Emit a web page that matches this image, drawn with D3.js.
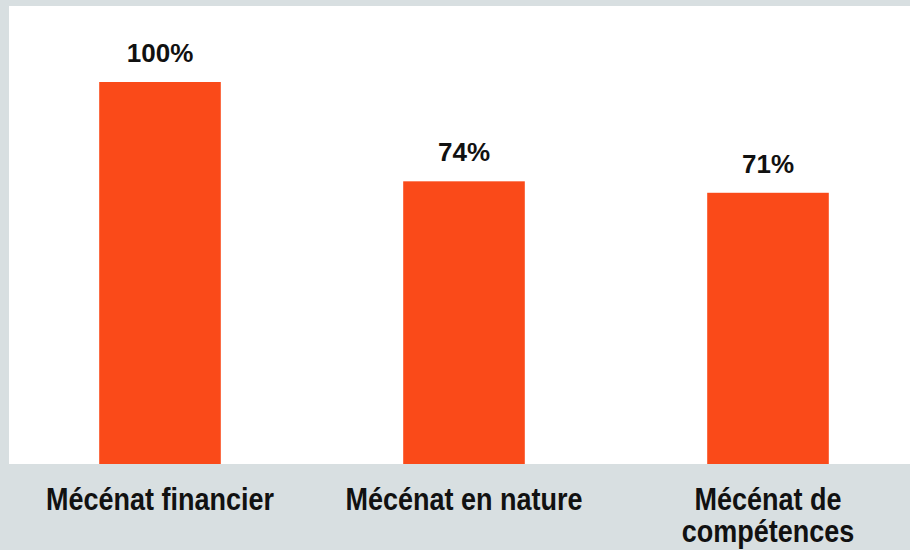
<!DOCTYPE html>
<html>
<head>
<meta charset="utf-8">
<script src="https://cdn.jsdelivr.net/npm/d3@7"></script>
<style>
  html, body { margin: 0; padding: 0; background: #d8dfe1; }
  svg { display: block; }
</style>
</head>
<body>
<svg id="chart" width="910" height="550"></svg>
<script>
const categories = ["Mécénat financier", "Mécénat en nature", "Mécénat de compétences"];
const categoryLines = [["Mécénat financier"], ["Mécénat en nature"], ["Mécénat de", "compétences"]];
const values = [100, 74, 71];
const valueLabels = ["100%", "74%", "71%"];

const W = 910, H = 550;
const svg = d3.select("#chart");

svg.append("rect").attr("x", 0).attr("y", 0).attr("width", W).attr("height", H).attr("fill", "#d8dfe1");
svg.append("rect").attr("x", 9).attr("y", 6).attr("width", W - 9).attr("height", 464 - 6).attr("fill", "#ffffff");

const x = d3.scaleBand().domain(categories).range([8, 920]).paddingInner(0.6).paddingOuter(0.3);
const y = d3.scaleLinear().domain([0, 100]).range([464, 82]);

svg.selectAll("rect.bar").data(values).join("rect")
  .attr("class", "bar")
  .attr("x", (d, i) => x(categories[i]))
  .attr("width", x.bandwidth())
  .attr("y", d => y(d))
  .attr("height", d => y(0) - y(d))
  .attr("fill", "#fa4a19");

svg.selectAll("text.val").data(values).join("text")
  .attr("class", "val")
  .attr("x", (d, i) => x(categories[i]) + x.bandwidth() / 2)
  .attr("y", d => y(d) - 20)
  .attr("text-anchor", "middle")
  .attr("font-family", "'Liberation Sans', Arial, sans-serif")
  .attr("font-weight", "bold")
  .attr("font-size", 26)
  .attr("fill", "#111")
  .text((d, i) => valueLabels[i]);

const cat = svg.selectAll("g.cat").data(categories).join("g")
  .attr("class", "cat")
  .attr("transform", d => `translate(${x(d) + x.bandwidth() / 2},510) scale(1,1.13)`);

cat.each(function(d, i) {
  const g = d3.select(this);
  categoryLines[i].forEach((line, j) => {
    g.append("text")
      .attr("x", 0)
      .attr("y", j * 28.5)
      .attr("text-anchor", "middle")
      .attr("font-family", "'Liberation Sans', Arial, sans-serif")
      .attr("font-weight", "bold")
      .attr("font-size", 27)
      .attr("fill", "#111")
      .text(line);
  });
});
</script>
</body>
</html>
